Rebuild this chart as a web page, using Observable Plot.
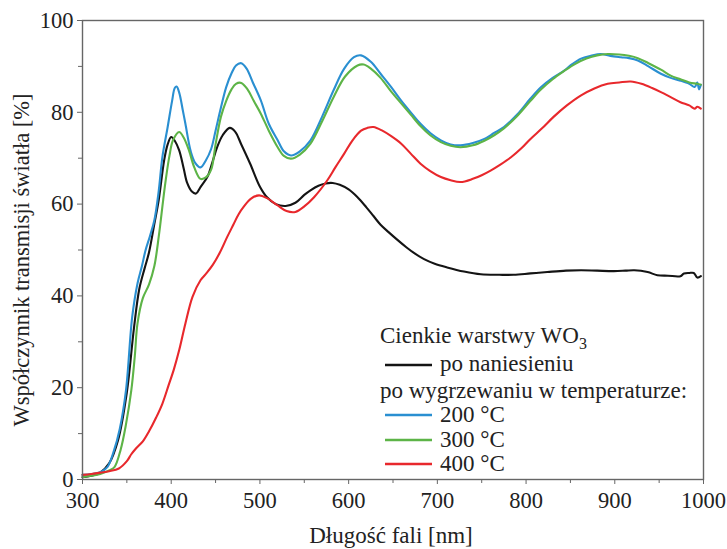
<!DOCTYPE html>
<html><head><meta charset="utf-8">
<script src="https://cdn.jsdelivr.net/npm/d3@7"></script>
<script src="https://cdn.jsdelivr.net/npm/@observablehq/plot@0.6"></script>
<style>
body{margin:0;background:#fff}
#chart{width:727px;height:549px}
</style>
</head><body><div id="chart"></div>
<script>
// ---- tick labels ----
const xTicks = [300, 400, 500, 600, 700, 800, 900, 1000];
const xMinor = [350, 450, 550, 650, 750, 850, 950];
const yTicks = [0, 20, 40, 60, 80, 100];
const yMinor = [10, 30, 50, 70, 90];

// ---- series names ----
const seriesNames = ["po naniesieniu", "200 °C", "300 °C", "400 °C"];

// ---- po naniesieniu (black) ----
const blackL = [300,310,320,330,340,350,358,364,370,375,381,386,392,396,400,404,409,414,418,423,428,433,441,447,452,458,466,472,479,489,500,508,518,529,540,550,557,566,574,582,590,600,610,620,628,636,645,655,665,674,685,697,711,730,749,770,786,805,824,845,862,880,899,912,922,937,948,960,974,978,984,989,993,997];
const blackT = [0.5,0.8,1.5,3.5,8.5,19,33,41.5,46,49.5,55.7,61,69.5,73,74.6,73.8,71.7,67.8,64.6,62.8,62.3,63.7,66,69.5,72.5,75,76.6,75.8,73,68.8,63.8,61.5,60,59.6,60.3,62,63,64,64.5,64.6,64.2,63.2,61.5,59.3,57.4,55.5,53.9,52.2,50.6,49.3,48,47,46.2,45.3,44.7,44.6,44.6,44.9,45.2,45.5,45.6,45.5,45.4,45.5,45.6,45.2,44.5,44.4,44.3,44.9,45.0,45.0,44.0,44.3];

// ---- 200 °C (blue) ----
const blueL = [300,310,320,328,335,342,349,356,362,367,371,376,381,386,390,396,401,404,406,409,413,416,422,427,433,439,445,450,456,462,468,473,479,485,492,501,510,520,527,535,545,557,570,583,595,606,614,625,636,648,659,670,681,692,704,715,726,740,753,764,775,790,805,817,830,843,852,862,873,884,895,907,916,926,938,952,963,974,984,990,993,995,997];
const blueT = [1,1.2,1.6,2.7,6,11,19.4,35.4,42.7,46.5,49.9,53,56.5,63,70.2,76.8,82.5,85.3,85.6,84.3,80.5,77.5,71.5,69,68,69.5,72,76,81,85.5,88.5,90.2,90.7,89.5,86.5,82.6,77.5,73.9,71.5,70.6,71.5,73.9,79,84.8,89.5,92,92.4,91,88.4,85.5,82.6,80,77.5,75.5,73.9,73,72.8,73.3,74.2,75.5,76.8,79.5,83,85.5,87.5,89.1,90.5,91.7,92.3,92.7,92.3,92,91.8,91.3,90,88.4,87.5,86.9,86.2,85.5,86.5,85,86];

// ---- 300 °C (green) ----
const greenL = [300,310,320,330,336,343,349,355,359,362,368,375,381,386,391,394,398,402,409,414,420,426,433,439,445,450,456,462,468,473,479,486,493,501,510,520,527,535,545,557,570,583,596,610,617,625,636,648,659,670,681,692,704,715,726,740,753,764,775,790,805,817,830,843,855,868,880,892,905,916,926,938,952,963,974,984,993,997];
const greenT = [0.5,0.8,1.2,2,2.7,6.5,12,19.4,27,34,39.5,42.5,46.5,53,61,65.5,70.5,73.9,75.7,74.5,71.7,68,65.5,65.8,67.5,73,79,82.5,85,86.2,86.4,85,82.5,79.7,76,72.4,70.5,69.9,70.8,73.2,78,83.3,87.8,90.2,90.4,89.5,87.5,84.5,82,79.5,77,75,73.5,72.7,72.4,72.8,73.8,75,76.5,79.2,82.5,85,87.2,89,90.5,91.7,92.4,92.7,92.6,92.3,91.8,90.7,89.3,88,87.2,86.5,86.2,86];

// ---- 400 °C (red) ----
const redL = [300,310,320,330,341,350,355,360,368,375,383,390,397,403,409,416,424,433,440,447,455,463,470,476,482,490,499,508,520,530,540,550,561,576,585,595,604,614,621,628,638,648,659,670,681,692,704,715,726,740,750,760,771,783,795,805,818,831,846,862,877,892,905,918,930,942,952,963,974,984,990,993,997];
const redT = [1,1.2,1.5,1.8,2.4,4,5.5,6.7,8.3,10.5,13.5,16.5,20.5,24,28.2,34,39.8,43.4,45,46.8,49.5,52.8,55.5,57.8,59.5,61.2,61.9,61.3,59.7,58.5,58.3,59.5,61.5,65.2,68,71,73.8,76,76.6,76.8,76,74.8,73.2,71,68.8,67.2,65.9,65.2,64.8,65.5,66.3,67.3,68.6,70.2,72.2,74.2,76.5,79,81.5,83.7,85.2,86.2,86.5,86.7,86.2,85.3,84.4,83.3,82.2,81.5,80.8,81.2,80.8];

// ---- table built from the arrays ----
const table = [];
[[blackL, blackT], [blueL, blueT], [greenL, greenT], [redL, redT]].forEach(([L, T], i) => {
  L.forEach((l, j) => table.push({series: seriesNames[i], lambda: l, t: T[j]}));
});

const font = "'Liberation Serif', 'DejaVu Serif', serif";
const colors = ["#141414", "#2a8fd1", "#5db447", "#e8282c"];

const plot = Plot.plot({
  width: 727,
  height: 549,
  marginLeft: 82,
  marginRight: 24,
  marginTop: 20,
  marginBottom: 70,
  style: {fontFamily: font, background: "#fff", color: "#222"},
  x: {domain: [300, 1000]},
  y: {domain: [0, 100]},
  color: {domain: seriesNames, range: colors},
  marks: [
    Plot.line(table, {x: "lambda", y: "t", z: "series", stroke: "series", strokeWidth: 2.1, curve: "catmull-rom"}),
    Plot.frame({stroke: "#666", strokeWidth: 1.4}),
    Plot.axisX({ticks: xTicks, tickFormat: d => String(d), tickSize: 5, tickPadding: 8, fontSize: 22.5, stroke: "#666", label: null, fill: "#222"}),
    Plot.axisX({ticks: xMinor, tickSize: 4, tickFormat: () => "", stroke: "#666", label: null}),
    Plot.axisY({ticks: yTicks, tickFormat: d => String(d), tickSize: 5, tickPadding: 4, fontSize: 22.5, stroke: "#666", label: null, fill: "#222"}),
    Plot.axisY({ticks: yMinor, tickSize: 4, tickFormat: () => "", stroke: "#666", label: null})
  ]
});

const svg = d3.select(plot);
// axis titles
svg.append("text")
  .attr("x", 391).attr("y", 543)
  .attr("text-anchor", "middle")
  .attr("font-family", font).attr("font-size", 23).attr("fill", "#222")
  .text("Długość fali [nm]");
svg.append("text")
  .attr("transform", "translate(29,260) rotate(-90)")
  .attr("text-anchor", "middle")
  .attr("font-family", font).attr("font-size", 22.5).attr("fill", "#222")
  .text("Współczynnik transmisji światła [%]");

// legend
const lg = svg.append("g").attr("font-family", font).attr("font-size", 23).attr("fill", "#222").attr("text-anchor", "start");
const title = lg.append("text").attr("x", 380).attr("y", 343);
title.append("tspan").text("Cienkie warstwy WO");
title.append("tspan").attr("font-size", 16).attr("dy", 6).text("3");
const rows = [
  {y: 365, ty: 371, color: colors[0], label: seriesNames[0]},
  {y: 415, ty: 422, color: colors[1], label: seriesNames[1]},
  {y: 440, ty: 447, color: colors[2], label: seriesNames[2]},
  {y: 464, ty: 471, color: colors[3], label: seriesNames[3]}
];
rows.forEach(r => {
  lg.append("line").attr("x1", 385).attr("x2", 432).attr("y1", r.y).attr("y2", r.y)
    .attr("stroke", r.color).attr("stroke-width", 2.4);
  lg.append("text").attr("x", 440).attr("y", r.ty).text(r.label);
});
lg.append("text").attr("x", 380).attr("y", 398).text("po wygrzewaniu w temperaturze:");

document.getElementById("chart").appendChild(plot);
</script>
</body></html>
